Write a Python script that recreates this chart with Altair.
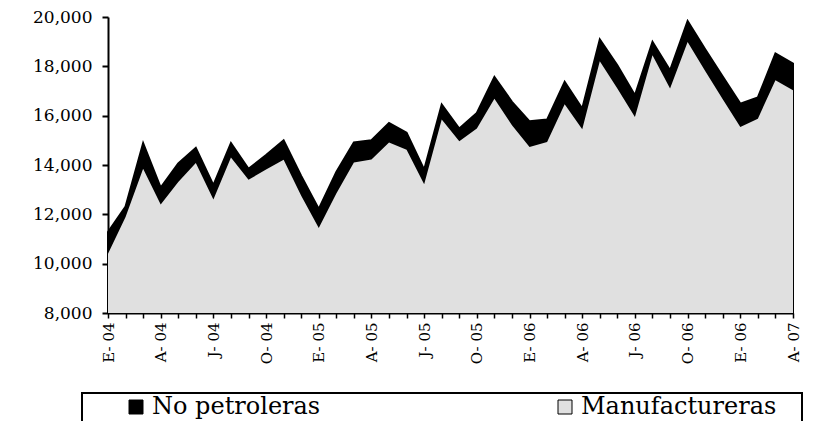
import json
import altair as alt
import pandas as pd

# Monthly index: 0 = Jan 2004 (E- 04) ... 39 = Apr 2007 (A- 07)
meses = list(range(40))
tick_labels = ["E- 04", "A- 04", "J- 04", "O- 04", "E- 05", "A- 05", "J- 05", "O- 05",
               "E- 06", "A- 06", "J- 06", "O- 06", "E- 06", "A- 07"]
y_ticks = [8000, 10000, 12000, 14000, 16000, 18000, 20000]

no_petroleras = [11280, 12320, 14890, 13080, 14060, 14690, 13180, 14890, 13850, 14400,
                 15000, 13560, 12220, 13720, 14910, 15000, 15700, 15310, 13810, 16450,
                 15480, 16110, 17570, 16560, 15770, 15840, 17370, 16290, 19090, 18040,
                 16830, 18990, 17840, 19840, 18690, 17590, 16490, 16740, 18520, 18110]
manufactureras = [10400, 11890, 13850, 12400, 13310, 14080, 12600, 14300, 13400, 13820,
                  14210, 12750, 11450, 12840, 14100, 14220, 14910, 14620, 13220, 15840,
                  14960, 15480, 16690, 15610, 14730, 14930, 16460, 15450, 18210, 17100,
                  15950, 18450, 17100, 18990, 17810, 16670, 15540, 15880, 17440, 17030]

series = ["No petroleras", "Manufactureras"]
colors = ["#000000", "#e0e0e0"]
FONT = "DejaVu Serif"

df = pd.DataFrame({
    "mes": meses * 2,
    "valor": no_petroleras + manufactureras,
    "serie": [series[0]] * len(meses) + [series[1]] * len(meses),
})

label_expr = f"datum.value % 3 == 0 ? {json.dumps(tick_labels)}[datum.value / 3] : ''"

x_enc = alt.X(
    "mes:Q",
    scale=alt.Scale(domain=[0, 39], nice=False, zero=False),
    axis=alt.Axis(values=meses, labelExpr=label_expr, labelAngle=270, labelOverlap=False,
                  labelFont=FONT, labelFontSize=15, labelPadding=4, tickSize=5,
                  tickWidth=1.5, domainWidth=2, title=None),
)
y_enc = alt.Y(
    "valor:Q",
    stack=None,
    scale=alt.Scale(domain=[8000, 20000], nice=False, zero=False),
    axis=alt.Axis(values=y_ticks, format=",.0f", labelFont=FONT, labelFontSize=17,
                  tickSize=6, tickWidth=2, domainWidth=2, labelPadding=10, title=None),
)
color_enc = alt.Color(
    "serie:N",
    scale=alt.Scale(domain=series, range=colors),
    legend=alt.Legend(orient="none", legendX=16, legendY=378, direction="horizontal",
                      columns=2, columnPadding=232, title=None, symbolType="square",
                      symbolSize=196, symbolStrokeColor="black", symbolStrokeWidth=1,
                      symbolOpacity=1, labelFont=FONT, labelFontSize=24, labelLimit=400,
                      labelColor="black", labelOffset=4, padding=0),
)

base = alt.Chart(df)
area_np = base.transform_filter(alt.datum.serie == series[0]).mark_area(
    opacity=1, stroke="black", strokeWidth=2, clip=False
).encode(x=x_enc, y=y_enc, color=color_enc)
area_mf = base.transform_filter(alt.datum.serie == series[1]).mark_area(
    opacity=1
).encode(x=x_enc, y=y_enc, color=color_enc)

frame = alt.Chart(alt.Data(values=[{"k": 1}])).mark_rect(
    fillOpacity=0, stroke="black", strokeWidth=2
).encode(x=alt.value(-26), x2=alt.value(694), y=alt.value(376), y2=alt.value(440))

chart = alt.layer(area_np, area_mf, frame).properties(
    width=685, height=296,
    autosize=alt.AutoSizeParams(type="none"),
    padding={"left": 100, "top": 9, "right": 12, "bottom": 108},
    background="white",
).configure(font=FONT).configure_view(strokeWidth=0).configure_axis(
    labelColor="black", domainColor="black", tickColor="black", grid=False,
)

chart.save("out.html", embed_options={"renderer": "svg", "actions": False})
